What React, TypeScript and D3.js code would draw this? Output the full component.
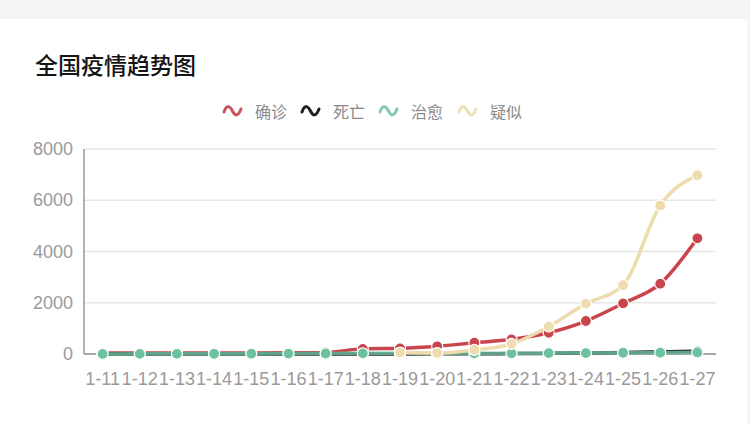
import React from "react";
import * as d3 from "d3";

const dates = ["1-11","1-12","1-13","1-14","1-15","1-16","1-17","1-18","1-19","1-20","1-21","1-22","1-23","1-24","1-25","1-26","1-27"];
const confirmed: (number|null)[] = [41,41,41,41,41,45,62,200,220,300,440,571,830,1287,1975,2744,4515];
const deaths: (number|null)[] = [1,1,1,1,2,2,2,3,4,6,9,17,25,41,56,80,106];
const cured: (number|null)[] = [2,5,6,7,12,15,19,25,25,25,28,28,34,38,49,51,60];
const suspected: (number|null)[] = [null,null,null,null,null,null,null,null,54,37,160,393,1072,1965,2684,5794,6973];
const yTicks = [0,2000,4000,6000,8000];
const seriesNames = ["确诊","死亡","治愈","疑似"];
const seriesColors = ["#c8454c","#262626","#6cc19f","#eedbae"];
const legendColors = ["#c9555b","#1e1e1e","#86c9b1","#e9e2b9"];

const W = 750, H = 424;
const left = 84, right = 716, top = 149, bottom = 354;

export default function App() {
  const x = d3.scaleBand<string>().domain(dates).range([left, right]);
  const cx = (d: string) => (x(d) as number) + x.bandwidth() / 2;
  const y = d3.scaleLinear().domain([0, 8000]).range([bottom, top]);
  const line = d3.line<number|null>()
    .defined((v) => v != null)
    .x((_, i) => cx(dates[i]))
    .y((v) => y(v as number))
    .curve(d3.curveMonotoneX);
  const all = [confirmed, deaths, cured, suspected];
  const font = "'Liberation Sans', Arial, sans-serif";
  const cjk = "'Noto Sans CJK SC', sans-serif";
  const legendIcons = [224, 302, 380, 459];
  const legendTexts = [255, 333, 411, 490];
  const legendY = 111;
  return (
    <div style={{ position: "fixed", left: 0, top: 0, width: W, height: H, background: "#fff" }}>
      <svg width={W} height={H} style={{ display: "block" }}>
        <rect x={0} y={0} width={W} height={H} fill="#ffffff" />
        <rect x={0} y={0} width={W} height={19} fill="#f4f4f4" />
        <rect x={747} y={19} width={3} height={H - 19} fill="#f6f6f6" />
        <text x={35} y={74} fontFamily={cjk} fontSize={23} fontWeight={500} fill="#151515">全国疫情趋势图</text>
        {seriesNames.map((n, i) => (
          <g key={n}>
            <path
              d={`M${legendIcons[i]},${legendY + 1} C${legendIcons[i] + 3},${legendY - 7} ${legendIcons[i] + 6},${legendY - 5} ${legendIcons[i] + 8.5},${legendY} S${legendIcons[i] + 14},${legendY + 6} ${legendIcons[i] + 17},${legendY - 2}`}
              fill="none" stroke={legendColors[i]} strokeWidth={3} strokeLinecap="round" />
            <text x={legendTexts[i]} y={legendY} dominantBaseline="central" fontFamily={cjk} fontSize={16} fill="#8a8a8a">{n}</text>
          </g>
        ))}
        {yTicks.map((t) => (
          <g key={t}>
            {t > 0 && <line x1={left} x2={right} y1={y(t)} y2={y(t)} stroke="#e6e6e6" strokeWidth={1.5} />}
            <text x={73} y={y(t)} textAnchor="end" dominantBaseline="central" fontFamily={font} fontSize={18} fill="#9a9a9a">{t}</text>
          </g>
        ))}
        <line x1={left} x2={left} y1={top} y2={bottom} stroke="#999" strokeWidth={1.5} />
        <line x1={left} x2={right} y1={bottom} y2={bottom} stroke="#888" strokeWidth={1.5} />
        {dates.map((d) => (
          <text key={d} x={cx(d)} y={379} textAnchor="middle" dominantBaseline="central" fontFamily={font} fontSize={18} fill="#9a9a9a">{d}</text>
        ))}
        {all.map((s, si) => (
          <g key={si}>
            <path d={line(s) || ""} fill="none" stroke={seriesColors[si]} strokeWidth={3.5}
              strokeOpacity={si === 2 ? 0.8 : 1} strokeLinejoin="round" />
            {s.map((v, i) => v == null ? null : (
              <circle key={i} cx={cx(dates[i])} cy={y(v)} r={5.5} fill={seriesColors[si]} stroke="#fff" strokeWidth={1.2} />
            ))}
          </g>
        ))}
      </svg>
    </div>
  );
}
